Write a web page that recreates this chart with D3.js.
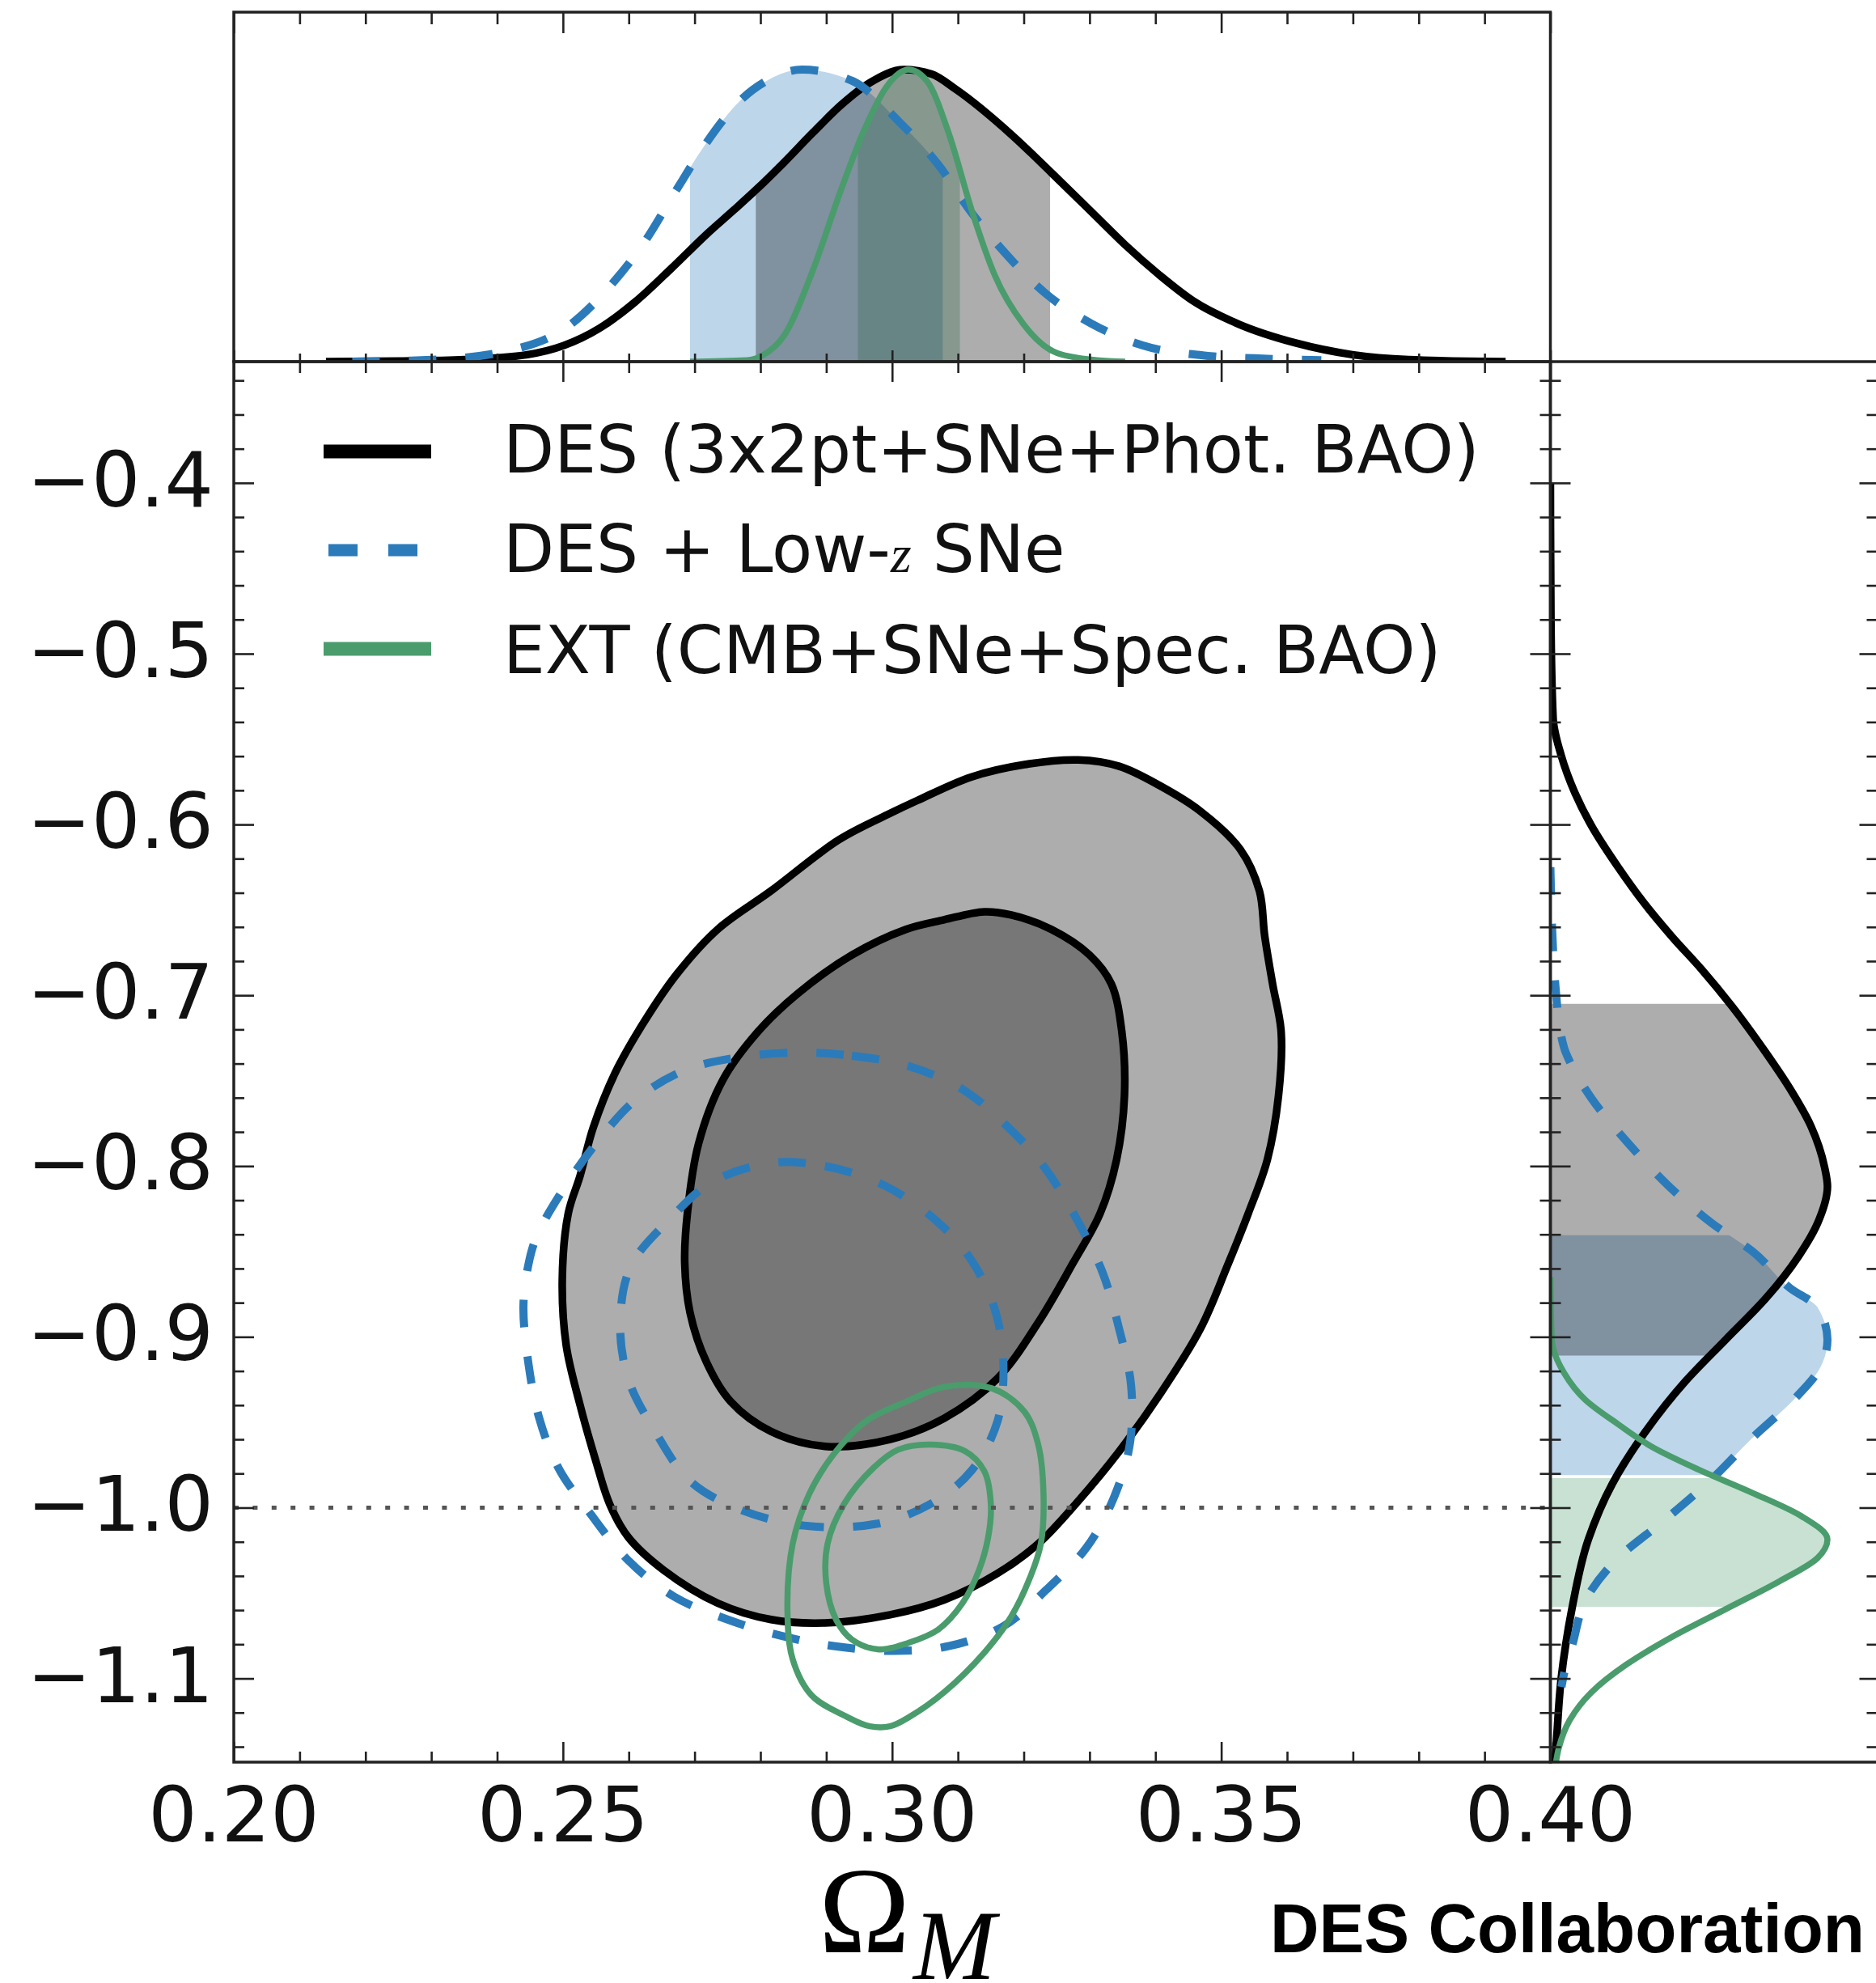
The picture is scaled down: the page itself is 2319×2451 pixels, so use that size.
<!DOCTYPE html>
<html><head><meta charset="utf-8">
<script src="https://cdn.jsdelivr.net/npm/d3@7"></script>
<style>html,body{margin:0;padding:0;background:#fff}svg{display:block}</style>
</head><body>
<svg id="chart" width="2319" height="2451"></svg>
<script>
// ---------------- DATA ----------------
const omTicks = [0.20, 0.25, 0.30, 0.35, 0.40];
const omTickLabels = ["0.20", "0.25", "0.30", "0.35", "0.40"];
const wTicks = [-0.4, -0.5, -0.6, -0.7, -0.8, -0.9, -1.0, -1.1];
const wTickLabels = ["\u22120.4", "\u22120.5", "\u22120.6", "\u22120.7", "\u22120.8", "\u22120.9", "\u22121.0", "\u22121.1"];
const seriesNames = ["DES (3x2pt+SNe+Phot. BAO)", "DES + Low-", "z", " SNe", "EXT (CMB+SNe+Spec. BAO)"];
const referenceW = -1.0;

// 2D contours [Omega_M, w]
const desOuter95 = [[0.3283,-0.5622],[0.3345,-0.5659],[0.3406,-0.5771],[0.3468,-0.5921],[0.3529,-0.6146],[0.3558,-0.6389],[0.3566,-0.6652],[0.3578,-0.6933],[0.3591,-0.7214],[0.3587,-0.7588],[0.3570,-0.7963],[0.3541,-0.8278],[0.3509,-0.8587],[0.3468,-0.8955],[0.3406,-0.9341],[0.3345,-0.9670],[0.3283,-0.9960],[0.3222,-1.0211],[0.3160,-1.0385],[0.3079,-1.0540],[0.2997,-1.0627],[0.2898,-1.0675],[0.2816,-1.0655],[0.2735,-1.0559],[0.2653,-1.0366],[0.2599,-1.0172],[0.2571,-0.9979],[0.2550,-0.9727],[0.2526,-0.9399],[0.2505,-0.9051],[0.2499,-0.8664],[0.2508,-0.8278],[0.2526,-0.8057],[0.2546,-0.7775],[0.2579,-0.7457],[0.2620,-0.7176],[0.2673,-0.6876],[0.2735,-0.6614],[0.2816,-0.6389],[0.2919,-0.6090],[0.2997,-0.5935],[0.3038,-0.5860],[0.3120,-0.5722],[0.3201,-0.5649]];
const desInner68 = [[0.3140,-0.6511],[0.3181,-0.6530],[0.3242,-0.6614],[0.3300,-0.6764],[0.3333,-0.6933],[0.3349,-0.7214],[0.3353,-0.7588],[0.3341,-0.7963],[0.3316,-0.8278],[0.3275,-0.8567],[0.3222,-0.8916],[0.3160,-0.9244],[0.3079,-0.9477],[0.2997,-0.9600],[0.2898,-0.9641],[0.2816,-0.9554],[0.2755,-0.9380],[0.2718,-0.9148],[0.2693,-0.8857],[0.2685,-0.8567],[0.2689,-0.8278],[0.2706,-0.7869],[0.2743,-0.7495],[0.2796,-0.7214],[0.2857,-0.6989],[0.2939,-0.6764],[0.3021,-0.6614],[0.3079,-0.6558]];
const lowzOuter95 = [[0.2857,-0.7335],[0.2939,-0.7354],[0.3021,-0.7410],[0.3107,-0.7551],[0.3177,-0.7775],[0.3230,-0.8000],[0.3279,-0.8301],[0.3320,-0.8626],[0.3345,-0.8955],[0.3363,-0.9283],[0.3361,-0.9631],[0.3337,-0.9940],[0.3296,-1.0230],[0.3234,-1.0482],[0.3169,-1.0694],[0.3087,-1.0810],[0.3003,-1.0839],[0.2911,-1.0810],[0.2833,-1.0752],[0.2751,-1.0656],[0.2669,-1.0521],[0.2599,-1.0308],[0.2542,-1.0037],[0.2493,-0.9766],[0.2464,-0.9476],[0.2448,-0.9167],[0.2440,-0.8819],[0.2448,-0.8568],[0.2460,-0.8413],[0.2489,-0.8207],[0.2550,-0.7869],[0.2612,-0.7607],[0.2685,-0.7439],[0.2767,-0.7363]];
const lowzInner68 = [[0.2816,-0.7982],[0.2898,-0.8000],[0.2988,-0.8113],[0.3066,-0.8316],[0.3120,-0.8548],[0.3156,-0.8838],[0.3169,-0.9148],[0.3160,-0.9496],[0.3120,-0.9786],[0.3058,-0.9979],[0.2976,-1.0095],[0.2866,-1.0105],[0.2767,-1.0008],[0.2693,-0.9844],[0.2640,-0.9554],[0.2599,-0.9244],[0.2587,-0.8916],[0.2603,-0.8587],[0.2661,-0.8316],[0.2726,-0.8094]];
const extOuter95 = [[0.3079,-0.9293],[0.3152,-0.9302],[0.3201,-0.9438],[0.3222,-0.9631],[0.3230,-0.9921],[0.3226,-1.0211],[0.3210,-1.0405],[0.3181,-1.0637],[0.3140,-1.0849],[0.3079,-1.1081],[0.3027,-1.1224],[0.2997,-1.1280],[0.2966,-1.1280],[0.2931,-1.1224],[0.2878,-1.1100],[0.2849,-1.0888],[0.2841,-1.0598],[0.2849,-1.0211],[0.2874,-0.9921],[0.2911,-0.9689],[0.2960,-0.9495],[0.3021,-0.9380]];
const extInner68 = [[0.3058,-0.9631],[0.3111,-0.9670],[0.3140,-0.9786],[0.3150,-0.9979],[0.3146,-1.0172],[0.3132,-1.0366],[0.3107,-1.0559],[0.3070,-1.0714],[0.3025,-1.0791],[0.2980,-1.0830],[0.2939,-1.0772],[0.2915,-1.0656],[0.2900,-1.0443],[0.2902,-1.0211],[0.2927,-0.9979],[0.2972,-0.9766],[0.3009,-0.9661]];

// 1D marginals in Omega_M [Omega_M, P/Pmax]
const desOm = [[0.214,0],[0.225,0.002],[0.235,0.007],[0.2446,0.024],[0.2501,0.055],[0.2556,0.115],[0.2610,0.205],[0.2665,0.32],[0.2720,0.44],[0.2760,0.52],[0.2794,0.59],[0.2837,0.685],[0.2880,0.785],[0.2923,0.88],[0.2966,0.955],[0.3018,1.0],[0.3060,0.985],[0.3096,0.934],[0.3182,0.776],[0.3242,0.647],[0.3311,0.495],[0.3354,0.40],[0.3406,0.297],[0.3458,0.207],[0.3527,0.128],[0.3613,0.064],[0.3699,0.024],[0.3785,0.007],[0.3932,0]];
const lowzOm = [[0.218,0],[0.230,0.006],[0.2426,0.042],[0.2506,0.118],[0.2572,0.26],[0.2624,0.41],[0.2671,0.583],[0.2715,0.74],[0.2772,0.90],[0.2812,0.965],[0.2863,1.0],[0.2940,0.961],[0.3010,0.823],[0.3070,0.675],[0.3121,0.509],[0.3165,0.389],[0.3234,0.232],[0.3303,0.130],[0.3380,0.056],[0.3484,0.019],[0.3570,0.01],[0.3652,0.005]];
const extOm = [[0.2693,0],[0.2780,0.005],[0.2802,0.02],[0.2837,0.093],[0.2880,0.315],[0.2923,0.592],[0.2958,0.795],[0.2992,0.943],[0.3025,1.0],[0.3053,0.961],[0.3087,0.776],[0.3121,0.518],[0.3156,0.296],[0.3199,0.130],[0.3251,0.029],[0.3311,0.005],[0.3354,0]];
// 1D marginals in w [w, P/Pmax]
const desW = [[-0.40,0],[-0.48,0.002],[-0.538,0.01],[-0.5596,0.039],[-0.5813,0.088],[-0.6004,0.147],[-0.6249,0.244],[-0.6466,0.341],[-0.6657,0.439],[-0.6847,0.545],[-0.7064,0.655],[-0.733,0.775],[-0.7548,0.865],[-0.7765,0.94],[-0.801,0.99],[-0.812,1.0],[-0.8336,0.964],[-0.8527,0.896],[-0.8772,0.779],[-0.9016,0.633],[-0.9261,0.487],[-0.956,0.341],[-0.9859,0.224],[-1.0186,0.137],[-1.059,0.078],[-1.10,0.039],[-1.141,0.02],[-1.149,0.016]];
const lowzW = [[-0.625,0],[-0.698,0.02],[-0.731,0.05],[-0.7385,0.069],[-0.760,0.147],[-0.787,0.283],[-0.812,0.429],[-0.8336,0.584],[-0.850,0.730],[-0.8717,0.867],[-0.8826,0.964],[-0.9016,1.0],[-0.918,0.974],[-0.937,0.877],[-0.959,0.730],[-0.983,0.584],[-1.0077,0.409],[-1.0295,0.244],[-1.0512,0.137],[-1.081,0.078],[-1.0974,0.049],[-1.105,0.04]];
const extW = [[-0.865,0],[-0.9016,0.005],[-0.921,0.049],[-0.937,0.127],[-0.9511,0.244],[-0.9647,0.370],[-0.9778,0.536],[-0.9914,0.730],[-1.005,0.906],[-1.0186,1.0],[-1.0295,0.964],[-1.043,0.828],[-1.0594,0.633],[-1.0757,0.439],[-1.092,0.273],[-1.1083,0.147],[-1.1246,0.069],[-1.141,0.030],[-1.149,0.02]];
// 68% intervals
const desOmBand = [0.2793, 0.3240], lowzOmBand = [0.2693, 0.3077], extOmBand = [0.2948, 0.3103];
const desWBand = [-0.911, -0.705], lowzWBand = [-0.981, -0.8405], extWBand = [-1.058, -0.9827];

// ---------------- STYLE ----------------
const C_BLACK = "#000", C_BLUE = "#2b7bba", C_GREEN = "#4a9c6d";
const LW_BLACK = 9.5, LW_BLUE = 10, LW_GREEN = 7.5, DASH = "34 36";
const svg = d3.select("#chart");
const x = d3.scaleLinear().domain([0.2, 0.4]).range([289, 1916.5]);
const y = d3.scaleLinear().domain([-0.329, -1.149]).range([447, 2178]);
const yTop = d3.scaleLinear().domain([0, 1.197]).range([447, 15]);
const dMaxR = 1.1854;
const xRight = d3.scaleLinear().domain([0, dMaxR]).range([1916.5, 2322.5]);

const defs = svg.append("defs");
function clip(id, x0, y0, w, h) {
  defs.append("clipPath").attr("id", id).append("rect").attr("x", x0).attr("y", y0).attr("width", w).attr("height", h);
  return "url(#" + id + ")";
}
const mainClip = clip("mainClip", x(0.2), y(-0.329), x(0.4) - x(0.2), y(-1.149) - y(-0.329));
const topClip = clip("topClip", x(0.2), yTop(1.197), x(0.4) - x(0.2), yTop(0) - yTop(1.197));
const rightClip = clip("rightClip", xRight(0), y(-0.329), xRight(dMaxR) - xRight(0), y(-1.149) - y(-0.329));

// ---------------- MAIN PANEL ----------------
const contour = d3.line().x(d => x(d[0])).y(d => y(d[1])).curve(d3.curveCatmullRomClosed.alpha(0.5));
const gMain = svg.append("g").attr("clip-path", mainClip);
gMain.append("path").attr("d", contour(desOuter95)).attr("fill", "#adadad");
gMain.append("path").attr("d", contour(desInner68)).attr("fill", "#777777");
[desOuter95, desInner68].forEach(c => gMain.append("path").attr("d", contour(c)).attr("fill", "none").attr("stroke", C_BLACK).attr("stroke-width", LW_BLACK));
[lowzOuter95, lowzInner68].forEach(c => gMain.append("path").attr("d", contour(c)).attr("fill", "none").attr("stroke", C_BLUE).attr("stroke-width", LW_BLUE).attr("stroke-dasharray", DASH));
[extOuter95, extInner68].forEach(c => gMain.append("path").attr("d", contour(c)).attr("fill", "none").attr("stroke", C_GREEN).attr("stroke-width", LW_GREEN));
gMain.append("line").attr("x1", x(0.2)).attr("x2", x(0.4)).attr("y1", y(referenceW)).attr("y2", y(referenceW))
  .attr("stroke", "#555").attr("stroke-width", 5).attr("stroke-dasharray", "6 17.4");

// ---------------- TOP PANEL (Omega_M marginals) ----------------
const gTop = svg.append("g").attr("clip-path", topClip);
const areaTop = d3.area().x(d => x(d[0])).y0(yTop(0)).y1(d => yTop(d[1])).curve(d3.curveMonotoneX);
const lineTop = d3.line().x(d => x(d[0])).y(d => yTop(d[1])).curve(d3.curveMonotoneX);
function bandTop(data, band, color, opacity, id) {
  const cp = clip(id, x(band[0]), yTop(1.197), x(band[1]) - x(band[0]), yTop(0) - yTop(1.197));
  gTop.append("path").attr("d", areaTop(data)).attr("fill", color).attr("fill-opacity", opacity).attr("clip-path", cp);
}
bandTop(lowzOm, lowzOmBand, C_BLUE, 0.31, "bt1");
bandTop(extOm, extOmBand, C_GREEN, 0.30, "bt2");
bandTop(desOm, desOmBand, "#000", 0.32, "bt3");
gTop.append("path").attr("d", lineTop(desOm)).attr("fill", "none").attr("stroke", C_BLACK).attr("stroke-width", LW_BLACK);
gTop.append("path").attr("d", lineTop(lowzOm)).attr("fill", "none").attr("stroke", C_BLUE).attr("stroke-width", LW_BLUE).attr("stroke-dasharray", DASH);
gTop.append("path").attr("d", lineTop(extOm)).attr("fill", "none").attr("stroke", C_GREEN).attr("stroke-width", LW_GREEN);

// ---------------- RIGHT PANEL (w marginals) ----------------
const gRight = svg.append("g").attr("clip-path", rightClip);
const areaRight = d3.area().y(d => y(d[0])).x0(xRight(0)).x1(d => xRight(d[1])).curve(d3.curveMonotoneY);
const lineRight = d3.line().y(d => y(d[0])).x(d => xRight(d[1])).curve(d3.curveMonotoneY);
function bandRight(data, band, color, opacity, id) {
  const cp = clip(id, xRight(0), y(band[1]), xRight(dMaxR) - xRight(0), y(band[0]) - y(band[1]));
  gRight.append("path").attr("d", areaRight(data)).attr("fill", color).attr("fill-opacity", opacity).attr("clip-path", cp);
}
bandRight(lowzW, lowzWBand, C_BLUE, 0.31, "br1");
bandRight(extW, extWBand, C_GREEN, 0.30, "br2");
bandRight(desW, desWBand, "#000", 0.32, "br3");
gRight.append("path").attr("d", lineRight(desW)).attr("fill", "none").attr("stroke", C_BLACK).attr("stroke-width", LW_BLACK);
gRight.append("path").attr("d", lineRight(lowzW)).attr("fill", "none").attr("stroke", C_BLUE).attr("stroke-width", LW_BLUE).attr("stroke-dasharray", DASH);
gRight.append("path").attr("d", lineRight(extW)).attr("fill", "none").attr("stroke", C_GREEN).attr("stroke-width", LW_GREEN);

// ---------------- AXES / TICKS ----------------
const omMinor = d3.range(21, 40).filter(i => i % 5 !== 0).map(i => i / 100);
const wMinor = d3.range(-114, -32, 2).filter(i => i % 10 !== 0).map(i => i / 100);
function tickGroup(tx, ty, axis) {
  const g = svg.append("g").attr("transform", `translate(${tx},${ty})`).call(axis);
  g.select(".domain").remove();
  g.selectAll(".tick line").attr("stroke", "#222").attr("stroke-width", 2.6);
  return g;
}
const fmt = () => "";
// top panel: top spine (ticks down), bottom spine (ticks up)
tickGroup(0, yTop(1.197), d3.axisTop(x).tickValues(omTicks).tickSize(-26).tickFormat(fmt));
tickGroup(0, yTop(1.197), d3.axisTop(x).tickValues(omMinor).tickSize(-15).tickFormat(fmt));
tickGroup(0, yTop(0), d3.axisBottom(x).tickValues(omTicks).tickSize(-14).tickFormat(fmt));
tickGroup(0, yTop(0), d3.axisBottom(x).tickValues(omMinor).tickSize(-10).tickFormat(fmt));
// main panel x ticks
tickGroup(0, y(-0.329), d3.axisTop(x).tickValues(omTicks).tickSize(-25).tickFormat(fmt));
tickGroup(0, y(-0.329), d3.axisTop(x).tickValues(omMinor).tickSize(-14).tickFormat(fmt));
tickGroup(0, y(-1.149), d3.axisBottom(x).tickValues(omTicks).tickSize(-25).tickFormat(fmt));
tickGroup(0, y(-1.149), d3.axisBottom(x).tickValues(omMinor).tickSize(-13).tickFormat(fmt));
// main panel y ticks
tickGroup(x(0.2), 0, d3.axisLeft(y).tickValues(wTicks).tickSize(-25).tickFormat(fmt));
tickGroup(x(0.2), 0, d3.axisLeft(y).tickValues(wMinor).tickSize(-13).tickFormat(fmt));
tickGroup(x(0.4), 0, d3.axisRight(y).tickValues(wTicks).tickSize(-25).tickFormat(fmt));
tickGroup(x(0.4), 0, d3.axisRight(y).tickValues(wMinor).tickSize(-13).tickFormat(fmt));
// right panel y ticks
tickGroup(xRight(0), 0, d3.axisLeft(y).tickValues(wTicks).tickSize(-25).tickFormat(fmt));
tickGroup(xRight(0), 0, d3.axisLeft(y).tickValues(wMinor).tickSize(-13).tickFormat(fmt));
tickGroup(xRight(dMaxR), 0, d3.axisRight(y).tickValues(wTicks).tickSize(-24).tickFormat(fmt));
tickGroup(xRight(dMaxR), 0, d3.axisRight(y).tickValues(wMinor).tickSize(-15).tickFormat(fmt));

// frames
const frame = svg.append("g").attr("fill", "none").attr("stroke", "#222").attr("stroke-width", 3.5);
frame.append("rect").attr("x", x(0.2)).attr("y", yTop(1.197)).attr("width", x(0.4) - x(0.2)).attr("height", yTop(0) - yTop(1.197));
frame.append("rect").attr("x", x(0.2)).attr("y", y(-0.329)).attr("width", x(0.4) - x(0.2)).attr("height", y(-1.149) - y(-0.329));
frame.append("rect").attr("x", xRight(0)).attr("y", y(-0.329)).attr("width", xRight(dMaxR) - xRight(0)).attr("height", y(-1.149) - y(-0.329));

// tick labels
const labelFont = "'DejaVu Sans', sans-serif";
svg.append("g").selectAll("text").data(omTicks).join("text")
  .attr("x", d => x(d)).attr("y", 2276).attr("text-anchor", "middle")
  .attr("font-family", labelFont).attr("font-size", 95).attr("fill", "#111")
  .text((d, i) => omTickLabels[i]);
svg.append("g").selectAll("text").data(wTicks).join("text")
  .attr("x", 264).attr("y", d => y(d) + 29).attr("text-anchor", "end")
  .attr("font-family", labelFont).attr("font-size", 95).attr("fill", "#111")
  .text((d, i) => wTickLabels[i]);

// axis label Omega_M
const xl = svg.append("text").attr("x", 1012).attr("y", 2413).attr("font-family", "'Liberation Serif', 'DejaVu Serif', serif").attr("fill", "#000");
xl.append("tspan").attr("font-size", 152).text("\u03A9");
xl.append("tspan").attr("font-size", 122).attr("font-style", "italic").attr("dy", 33).attr("dx", 4).text("M");

// credit
svg.append("text").attr("x", 1570).attr("y", 2413).attr("font-family", "'Liberation Sans', Arial, sans-serif")
  .attr("font-weight", "bold").attr("font-size", 86).attr("textLength", 735).attr("lengthAdjust", "spacingAndGlyphs")
  .attr("fill", "#000").text("DES Collaboration");

// ---------------- LEGEND ----------------
const leg = svg.append("g");
const legendRows = [
  {y: 558, color: C_BLACK, width: 17, dash: null, x1: 400, x2: 533},
  {y: 680, color: C_BLUE, width: 15, dash: "36 38", x1: 406, x2: 516},
  {y: 802, color: C_GREEN, width: 17, dash: null, x1: 400, x2: 533}
];
legendRows.forEach(r => {
  const l = leg.append("line").attr("x1", r.x1).attr("x2", r.x2).attr("y1", r.y).attr("y2", r.y)
    .attr("stroke", r.color).attr("stroke-width", r.width);
  if (r.dash) l.attr("stroke-dasharray", r.dash);
});
const legText = (yy) => leg.append("text").attr("x", 622).attr("y", yy).attr("font-family", labelFont).attr("font-size", 82).attr("fill", "#111");
legText(584).text(seriesNames[0]);
const t2 = legText(707);
t2.append("tspan").text(seriesNames[1]);
t2.append("tspan").attr("font-family", "'Liberation Serif', 'DejaVu Serif', serif").attr("font-style", "italic").attr("font-size", 66).text(seriesNames[2]);
t2.append("tspan").text(seriesNames[3]);
legText(832).text(seriesNames[4]);
</script>
</body></html>
